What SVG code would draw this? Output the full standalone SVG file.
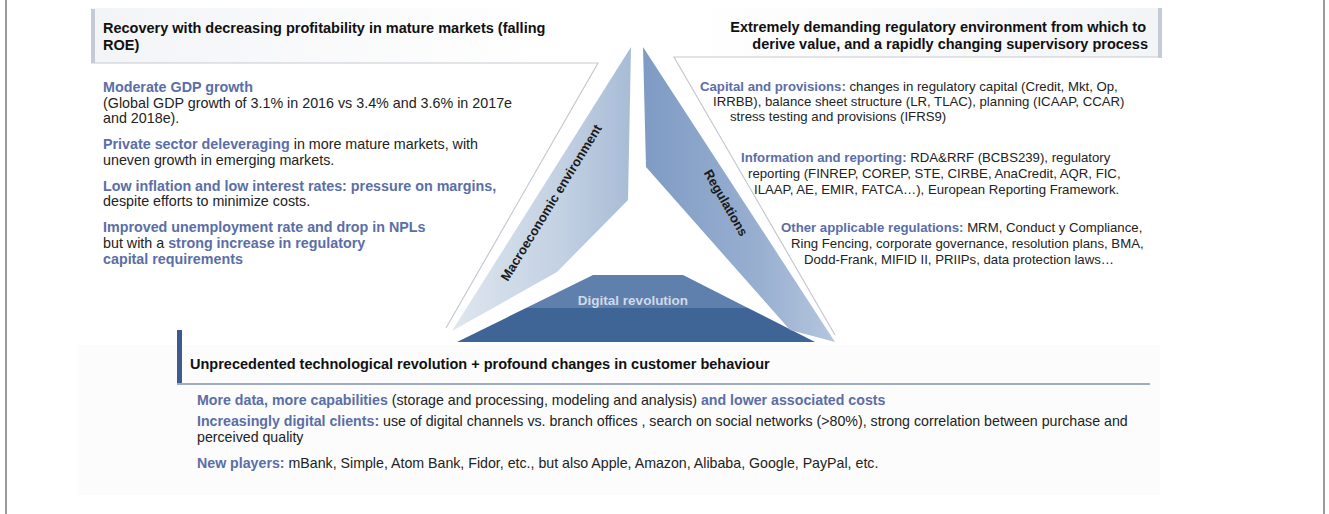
<svg xmlns="http://www.w3.org/2000/svg" width="1329" height="514" viewBox="0 0 1329 514">
<style>
text{font-family:"Liberation Sans",Arial,sans-serif;fill:#222;}
.h{font-size:14.5px;font-weight:bold;fill:#111;}
.bl{font-size:14.3px;}
.br{font-size:13.2px;}
.bb{font-size:14.2px;}
.k{fill:#5a6ea8;font-weight:bold;}
.tri{font-size:13px;font-weight:bold;fill:#1a1a1a;}
.frame{stroke:#9a9a9a;stroke-width:2;fill:none;}
.pline{stroke:#c5c9d2;stroke-width:1.2;fill:none;}
</style>
<defs>
<linearGradient id="gL" x1="0" y1="0" x2="1" y2="0">
<stop offset="0" stop-color="#dfe6ef"/><stop offset="0.6" stop-color="#c3d1e3"/><stop offset="1" stop-color="#a8bcd6"/>
</linearGradient>
<linearGradient id="gR" x1="0" y1="0" x2="1" y2="0">
<stop offset="0" stop-color="#7f9bc4"/><stop offset="0.6" stop-color="#98afd0"/><stop offset="1" stop-color="#b5c6de"/>
</linearGradient>
<linearGradient id="gHead" x1="0" y1="0" x2="1" y2="0">
<stop offset="0" stop-color="#f3f4f6"/><stop offset="1" stop-color="#ffffff"/>
</linearGradient>
</defs>
<rect width="1329" height="514" fill="#fff"/>
<line class="frame" x1="6" y1="0" x2="6" y2="514"/>
<line class="frame" x1="1324" y1="0" x2="1324" y2="514"/>

<g id="panel-macro">
<rect x="91" y="8" width="460" height="55" fill="url(#gHead)"/>
<rect x="91" y="9" width="4" height="54" fill="#c4cad6"/>
<polyline class="pline" points="91,63 598,63 446,328"/>
<text class="h" x="103" y="33">Recovery with decreasing profitability in mature markets (falling</text>
<text class="h" x="103" y="50">ROE)</text>
<text class="bl" x="103" y="92"><tspan class="k">Moderate GDP growth</tspan></text>
<text class="bl" x="103" y="108">(Global GDP growth of 3.1% in 2016 vs 3.4% and 3.6% in 2017e</text>
<text class="bl" x="103" y="123">and 2018e).</text>
<text class="bl" x="103" y="149"><tspan class="k">Private sector deleveraging</tspan> in more mature markets, with</text>
<text class="bl" x="103" y="165">uneven growth in emerging markets.</text>
<text class="bl" x="103" y="191"><tspan class="k">Low inflation and low interest rates: pressure on margins,</tspan></text>
<text class="bl" x="103" y="206">despite efforts to minimize costs.</text>
<text class="bl" x="103" y="232"><tspan class="k">Improved unemployment rate and drop in NPLs</tspan></text>
<text class="bl" x="103" y="248">but with a <tspan class="k">strong increase in regulatory</tspan></text>
<text class="bl" x="103" y="264"><tspan class="k">capital requirements</tspan></text>
</g>

<g id="panel-regulation">
<rect x="680" y="8" width="482" height="49" fill="url(#gHead)" transform="rotate(180 921 32.5)"/>
<rect x="1158" y="8" width="4" height="50" fill="#c4cad6"/>
<polyline class="pline" points="1160,57 674,57 835,335"/>
<text class="h" x="1146" y="32" text-anchor="end">Extremely demanding regulatory environment from which to</text>
<text class="h" x="1148" y="49" text-anchor="end">derive value, and a rapidly changing supervisory process</text>
<text class="br" x="700" y="91"><tspan class="k">Capital and provisions:</tspan> changes in regulatory capital (Credit, Mkt, Op,</text>
<text class="br" x="713" y="106">IRRBB), balance sheet structure (LR, TLAC), planning (ICAAP, CCAR)</text>
<text class="br" x="730" y="121">stress testing and provisions (IFRS9)</text>
<text class="br" x="741" y="162"><tspan class="k">Information and reporting:</tspan> RDA&amp;RRF (BCBS239), regulatory</text>
<text class="br" x="748" y="178">reporting (FINREP, COREP, STE, CIRBE, AnaCredit, AQR, FIC,</text>
<text class="br" x="754" y="194">ILAAP, AE, EMIR, FATCA…), European Reporting Framework.</text>
<text class="br" x="781" y="232"><tspan class="k">Other applicable regulations:</tspan> MRM, Conduct y Compliance,</text>
<text class="br" x="791" y="248">Ring Fencing, corporate governance, resolution plans, BMA,</text>
<text class="br" x="804" y="264">Dodd-Frank, MIFID II, PRIIPs, data protection laws…</text>
</g>

<g id="panel-digital">
<rect x="78" y="345" width="1082" height="150" fill="#fcfcfc"/>
<rect x="177" y="330" width="5" height="54" fill="#3e5b8c"/>
<line x1="177" y1="384" x2="1150" y2="384" stroke="#9fadc4" stroke-width="2"/>
<text class="h" x="190" y="369">Unprecedented technological revolution + profound changes in customer behaviour</text>
<text class="bb" x="197" y="405"><tspan class="k">More data, more capabilities</tspan> (storage and processing, modeling and analysis) <tspan class="k">and lower associated costs</tspan></text>
<text class="bb" x="197" y="426"><tspan class="k">Increasingly digital clients:</tspan> use of digital channels vs. branch offices , search on social networks (&gt;80%), strong correlation between purchase and</text>
<text class="bb" x="197" y="442">perceived quality</text>
<text class="bb" x="197" y="468"><tspan class="k">New players:</tspan> mBank, Simple, Atom Bank, Fidor, etc., but also Apple, Amazon, Alibaba, Google, PayPal, etc.</text>
</g>

<g id="tri-macro">
<polygon points="631,47 628,200 557,272 452,331" fill="url(#gL)"/>
<text class="tri" transform="translate(555,205) rotate(-58.5)" text-anchor="middle">Macroeconomic environment</text>
</g>
<g id="tri-digital">
<polygon points="593,275 683,275 748,308 526,308" fill="#5f80ad"/>
<polygon points="526,308 748,308 815,342 457,342" fill="#3f6596"/>
<text x="633" y="305" text-anchor="middle" style="font-size:13.5px;fill:#cfd9e8;font-weight:bold">Digital revolution</text>
</g>
<g id="tri-regulations">
<polygon points="643,47 646,167 790,330 835,342" fill="url(#gR)"/>
<text class="tri" transform="translate(722,205) rotate(60)" text-anchor="middle">Regulations</text>
</g>
<g id="connectors"/>
</svg>
